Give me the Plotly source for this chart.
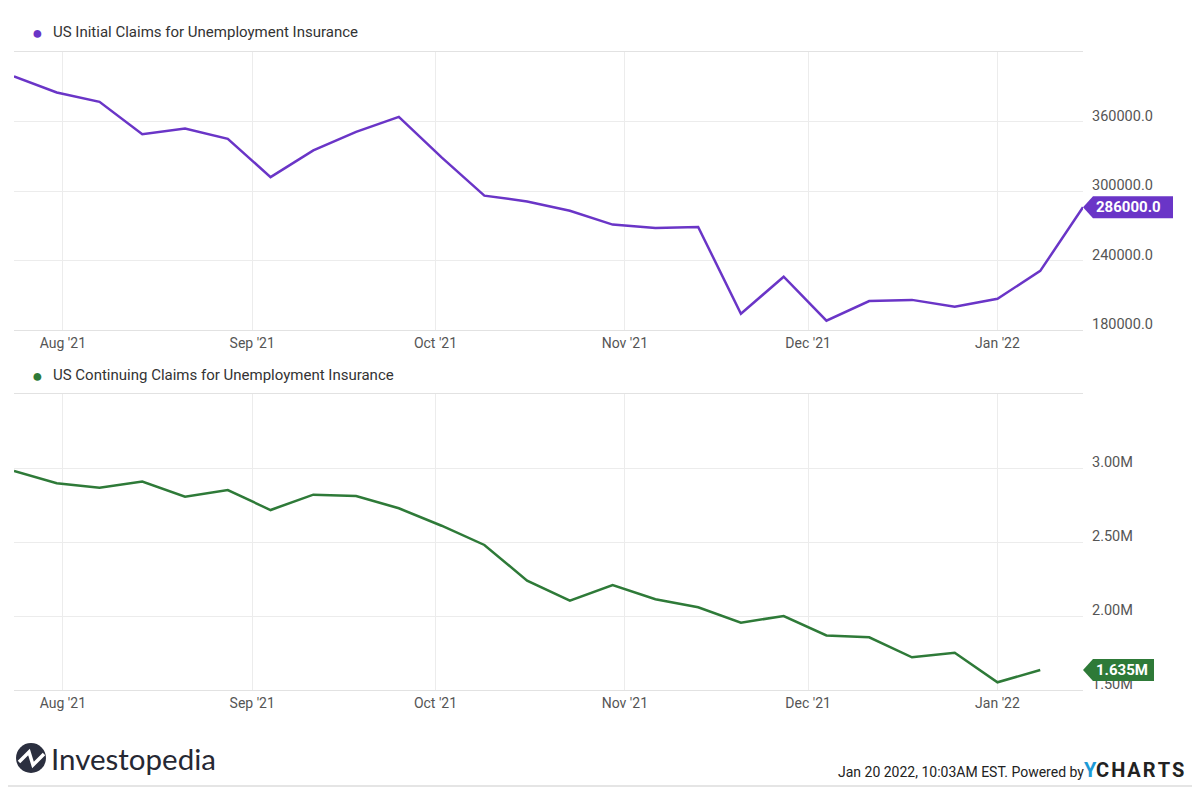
import plotly.graph_objects as go

# weekly data, week ending dates
initial_dates = ["2021-07-24", "2021-07-31", "2021-08-07", "2021-08-14", "2021-08-21",
                 "2021-08-28", "2021-09-04", "2021-09-11", "2021-09-18", "2021-09-25",
                 "2021-10-02", "2021-10-09", "2021-10-16", "2021-10-23", "2021-10-30",
                 "2021-11-06", "2021-11-13", "2021-11-20", "2021-11-27", "2021-12-04",
                 "2021-12-11", "2021-12-18", "2021-12-25", "2022-01-01", "2022-01-08",
                 "2022-01-15"]
initial_claims = [399000, 385000, 377000, 349000, 354000, 345000, 312000, 335000, 351000,
                  364000, 329000, 296000, 291000, 283000, 271000, 268000, 269000, 194000,
                  226000, 188000, 205000, 206000, 200000, 207000, 231000, 286000]

continuing_dates = initial_dates[:-1]
continuing_claims = [2980000, 2897000, 2867000, 2908000, 2806000, 2851000, 2716000, 2820000,
                     2811000, 2728000, 2610000, 2480000, 2239000, 2104000, 2209000, 2113000,
                     2059000, 1955000, 2000000, 1869000, 1856000, 1721000, 1752000, 1552000,
                     1635000]

top_ticks = [180000, 240000, 300000, 360000]
bottom_ticks = [1500000, 2000000, 2500000, 3000000]
bottom_ticktext = ["1.50M", "2.00M", "2.50M", "3.00M"]

PURPLE = "#6a35c7"
GREEN = "#2e7a38"

# the page body has an 8px margin, so the figure is drawn 8px in from the window corner
OFF = 8
W, H = 1200 - OFF, 787 - OFF


def px(X):
    return (X - OFF) / W


def py(Y):
    return 1 - (Y - OFF) / H


xdom = [px(14), px(1083)]

fig = go.Figure()
fig.add_scatter(x=initial_dates, y=initial_claims, mode="lines",
                line=dict(color=PURPLE, width=2.5), xaxis="x", yaxis="y",
                hoverinfo="x+y", showlegend=False)
fig.add_scatter(x=continuing_dates, y=continuing_claims, mode="lines",
                line=dict(color=GREEN, width=2.5), xaxis="x2", yaxis="y2",
                hoverinfo="x+y", showlegend=False)

xcommon = dict(type="date", range=[initial_dates[0], initial_dates[-1]],
               dtick="M1", tick0="2021-08-01", tickformat="%b '%y",
               showgrid=True, gridcolor="#ececec", gridwidth=1,
               showline=True, linecolor="#e2e2e2", mirror=True, ticks="",
               tickfont=dict(family="Roboto", size=14, color="#555"),
               zeroline=False, domain=xdom, automargin=False)
ycommon = dict(side="right", showgrid=True, gridcolor="#ececec", showline=False,
               ticks="", zeroline=False, ticklabelstandoff=8, ticklabelshift=-6,
               automargin=False,
               tickfont=dict(family="Roboto", size=14.5, color="#555"))

fig.update_layout(
    width=W, height=H,
    margin=dict(l=0, r=0, t=0, b=0),
    paper_bgcolor="white", plot_bgcolor="white",
    xaxis=dict(xcommon, anchor="y"),
    xaxis2=dict(xcommon, anchor="y2"),
    yaxis=dict(ycommon, domain=[py(330), py(52)], range=[180000, 420000],
               tickvals=top_ticks, tickformat=".1f", anchor="x"),
    yaxis2=dict(ycommon, domain=[py(690), py(394)], range=[1500000, 3500000],
                tickvals=bottom_ticks, ticktext=bottom_ticktext, anchor="x2"),
)

# last value tags
tag_path = "M0,0 L10,11 L90,11 L90,-11 L10,-11 Z"
tag_path2 = "M0,0 L10,11 L71,11 L71,-11 L10,-11 Z"
fig.add_shape(type="path", path=tag_path, xref="paper", yref="y",
              xsizemode="pixel", ysizemode="pixel", xanchor=xdom[1],
              yanchor=initial_claims[-1], fillcolor=PURPLE, line=dict(width=0))
fig.add_shape(type="path", path=tag_path2, xref="paper", yref="y2",
              xsizemode="pixel", ysizemode="pixel", xanchor=xdom[1],
              yanchor=continuing_claims[-1], fillcolor=GREEN, line=dict(width=0))
fig.add_annotation(x=xdom[1], xref="paper", y=initial_claims[-1], yref="y",
                   text="<b>%.1f</b>" % initial_claims[-1], showarrow=False,
                   xanchor="left", xshift=11, font=dict(family="Roboto", size=15, color="white"))
fig.add_annotation(x=xdom[1], xref="paper", y=continuing_claims[-1], yref="y2",
                   text="<b>%.3fM</b>" % (continuing_claims[-1] / 1e6), showarrow=False,
                   xanchor="left", xshift=11, font=dict(family="Roboto", size=15, color="white"))

# series labels
for ypix, color, label in [(32, PURPLE, "US Initial Claims for Unemployment Insurance"),
                           (375, GREEN, "US Continuing Claims for Unemployment Insurance")]:
    fig.add_annotation(x=px(37), y=py(ypix), xref="paper", yref="paper", text="●",
                       showarrow=False, xanchor="center", yanchor="middle",
                       font=dict(size=18, color=color))
    fig.add_annotation(x=px(51), y=py(ypix), xref="paper", yref="paper", text=label,
                       showarrow=False, xanchor="left", yanchor="middle",
                       font=dict(family="Roboto", size=15, color="#333"))

# footer: Investopedia logo
fig.add_shape(type="circle", xref="paper", yref="paper",
              x0=px(16), x1=px(46), y0=py(773), y1=py(743),
              fillcolor="#2b2f3f", line=dict(width=0))
fig.add_shape(type="path", xref="paper", yref="paper", line=dict(color="white", width=3.5),
              path="M %f,%f L %f,%f L %f,%f L %f,%f" % (
                  px(19), py(762), px(29), py(752), px(33), py(765), px(44), py(754)))
fig.add_annotation(x=px(49), y=py(758), xref="paper", yref="paper", text="Investopedia",
                   showarrow=False, xanchor="left", yanchor="middle",
                   font=dict(family="Lato", size=29.5, color="#262833"))

# footer: timestamp + YCharts
fig.add_annotation(x=px(1186), y=py(770), xref="paper", yref="paper",
                   text="Jan 20 2022, 10:03AM EST. Powered by"
                        "<span style='font-size:20px'><b><span style='color:#1c9ad6'>Y</span>"
                        "C\u200aH\u200aA\u200aR\u200aT\u200aS</b></span>",
                   showarrow=False, xanchor="right", yanchor="middle",
                   font=dict(family="Roboto", size=14, color="#222"))

# outer border (left/top edges fall in the page margin)
fig.add_shape(type="rect", xref="paper", yref="paper", x0=px(1), x1=px(1198),
              y0=py(786), y1=py(1), line=dict(color="#dddddd", width=1.5), layer="below")

fig.write_html("out.html")
